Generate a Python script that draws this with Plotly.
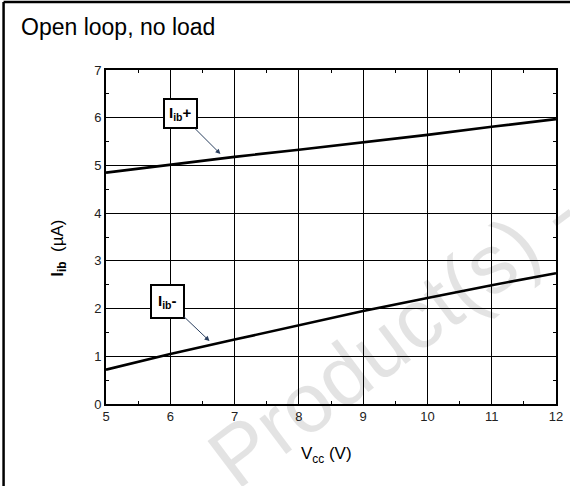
import plotly.graph_objects as go

# supply voltage (V)
vcc = [5, 6, 7, 8, 9, 10, 11, 12]
# input bias current (uA)
iib_plus = [4.85, 5.02, 5.18, 5.33, 5.48, 5.64, 5.81, 5.97]
iib_minus = [0.72, 1.05, 1.35, 1.65, 1.95, 2.22, 2.49, 2.74]

FONT = "Arial, Liberation Sans, sans-serif"

fig = go.Figure()
for ys in (iib_plus, iib_minus):
    fig.add_trace(go.Scatter(x=vcc, y=ys, mode="lines",
                             line=dict(color="black", width=2.6), showlegend=False))

axis_common = dict(
    showgrid=True, gridcolor="black", gridwidth=1,
    showline=True, linecolor="black", linewidth=1.6, mirror="ticks",
    ticks="inside", ticklen=4, tickcolor="black",
    minor=dict(ticks="inside", ticklen=3, tickcolor="black", dtick=0.5, showgrid=False),
    zeroline=False, tickfont=dict(family=FONT, size=13, color="#222"),
)

fig.update_xaxes(range=[5, 12], dtick=1, **axis_common)
fig.update_yaxes(range=[0, 7], dtick=1, **axis_common)

# outer frame: only top and left edges are inside the picture
frame = dict(color="black", width=2.5)
fig.update_layout(
    width=570, height=486, autosize=False,
    margin=dict(l=106, r=7, t=70, b=82),
    paper_bgcolor="white", plot_bgcolor="white",
    font=dict(family=FONT, color="black"),
    shapes=[
        dict(type="line", xref="paper", yref="paper", x0=-0.2276, x1=1.1,
             y0=1.2036, y1=1.2036, line=frame, layer="below"),
        dict(type="line", xref="paper", yref="paper", x0=-0.2276, x1=-0.2276,
             y0=-0.3, y1=1.2036, line=frame, layer="below"),
    ],
    annotations=[
        dict(text="Open loop, no load", xref="paper", yref="paper",
             x=-0.1926, y=1.1287, xanchor="left", yanchor="middle",
             showarrow=False, font=dict(size=23, family=FONT)),
        dict(text="<b>I<sub>ib</sub></b>  (µA)", xref="paper", yref="paper",
             x=-0.105, y=0.467, xanchor="center", yanchor="middle",
             textangle=-90, showarrow=False, font=dict(size=17, family=FONT)),
        dict(text="V<sub>cc</sub> (V)", xref="paper", yref="paper",
             x=0.49, y=-0.153, xanchor="center", yanchor="middle",
             showarrow=False, font=dict(size=17, family=FONT)),
        dict(text="<b>I<sub>ib</sub>+</b>", x=6.78, y=5.24, ax=-40, ay=-40,
             showarrow=True, arrowhead=2, arrowsize=1, arrowwidth=1,
             bordercolor="black", borderwidth=2, borderpad=4, bgcolor="white",
             font=dict(size=15, family=FONT)),
        dict(text="<b>I<sub>ib</sub>-</b>", x=6.61, y=1.32, ax=-42, ay=-40,
             showarrow=True, arrowhead=2, arrowsize=1, arrowwidth=1,
             bordercolor="black", borderwidth=2, borderpad=6, bgcolor="white",
             font=dict(size=15, family=FONT)),
        dict(text="Product(s) -", xref="paper", yref="paper",
             x=0.641, y=0.2036, xanchor="center", yanchor="middle",
             textangle=-37, showarrow=False,
             font=dict(size=84, family=FONT, color="rgba(0,0,0,0.11)")),
    ],
)

fig.write_html(
    "out.html", config={"displayModeBar": False, "responsive": False},
    post_script="document.body.style.margin='0';"
                "document.documentElement.style.overflow='hidden';",
)
